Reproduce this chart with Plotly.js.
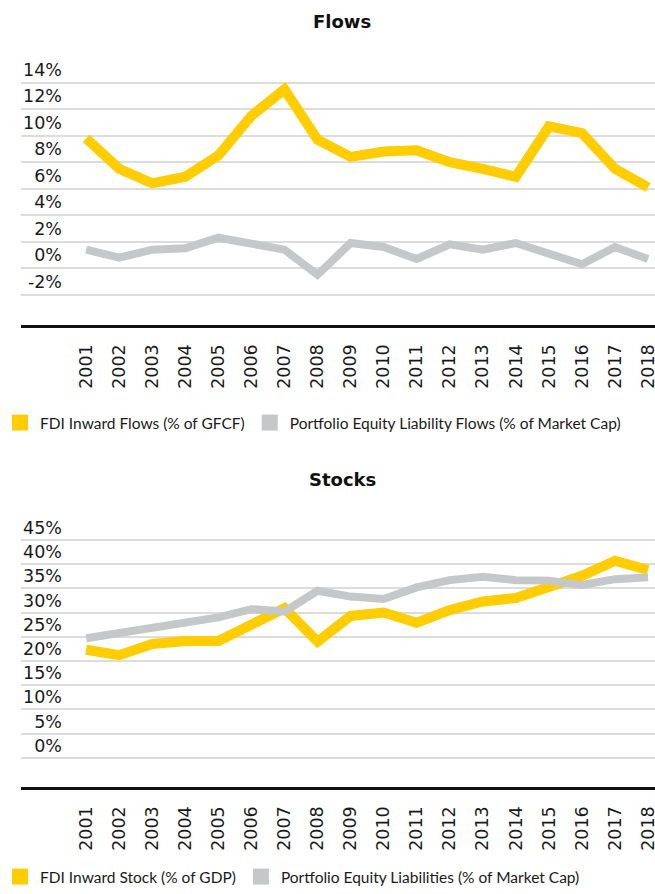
<!DOCTYPE html>
<html>
<head>
<meta charset="utf-8">
<script src="https://cdn.plot.ly/plotly-3.0.1.min.js"></script>
<style>
  body { margin: 0; padding: 0; background: #fff; }
  #chart { width: 655px; height: 894px; }
</style>
</head>
<body>
<div id="chart"></div>
<script>
var years = [2001, 2002, 2003, 2004, 2005, 2006, 2007, 2008, 2009,
             2010, 2011, 2012, 2013, 2014, 2015, 2016, 2017, 2018];

// flows, % values
var fdiFlows = [9.8, 7.5, 6.4, 6.9, 8.5, 11.5, 13.5, 9.7, 8.4,
                8.8, 8.9, 8.0, 7.5, 6.9, 10.7, 10.2, 7.5, 6.1];
var equityFlows = [1.4, 0.8, 1.4, 1.5, 2.3, 1.9, 1.4, -0.5, 1.9,
                   1.6, 0.7, 1.8, 1.4, 1.9, 1.1, 0.3, 1.6, 0.7];

// stocks, % values
var fdiStock = [22.3, 21.2, 23.5, 24.1, 24.1, 27.6, 30.9, 24.0, 29.3,
                30.0, 27.9, 30.5, 32.3, 33.0, 35.5, 37.6, 40.7, 38.8];
var equityStock = [24.7, 25.7, 27.1, 28.0, 29.0, 30.7, 30.2, 34.5, 33.3,
                   32.8, 35.2, 36.7, 37.4, 36.7, 36.6, 35.7, 36.9, 37.3];

var flowTicks = [-2, 0, 2, 4, 6, 8, 10, 12, 14];
var flowLabels = ["-2%", "0%", "2%", "4%", "6%", "8%", "10%", "12%", "14%"];
var stockTicks = [0, 5, 10, 15, 20, 25, 30, 35, 40, 45];
var stockLabels = ["0%", "5%", "10%", "15%", "20%", "25%", "30%", "35%", "40%", "45%"];

var yellow = "#ffcd00";
var grey = "#c5c7c8";
var tickFont = {family: "DejaVu Sans", size: 17.5, color: "#1a1a1a"};
var legendFont = {family: "Lato", size: 15.5, color: "#1a1a1a"};

function line(y, color, width, xa, ya){
    return {x: years, y: y, type: "scatter", mode: "lines",
            line: {color: color, width: width},
            xaxis: xa, yaxis: ya, showlegend: false, hoverinfo: "skip"};
}

function key(name, color, leg){
    return {x: [null], y: [null], type: "scatter", mode: "markers", name: name,
            marker: {symbol: "square", size: 16, color: color},
            legend: leg, xaxis: "x", yaxis: "y"};
}

var traces = [
    line(fdiFlows, yellow, 10, "x", "y"),
    line(equityFlows, grey, 8, "x", "y"),
    line(fdiStock, yellow, 10, "x2", "y2"),
    line(equityStock, grey, 8, "x2", "y2"),
    key("FDI Inward Flows (% of GFCF)", yellow, "legend"),
    key("Portfolio Equity Liability Flows (% of Market Cap)", grey, "legend"),
    key("FDI Inward Stock (% of GDP)", yellow, "legend2"),
    key("Portfolio Equity Liabilities (% of Market Cap)", grey, "legend2")
];

function xaxis(anchor){
    return {anchor: anchor, domain: [21 / 655, 1], range: [1999.03, 2018.21],
            tickvals: years, ticktext: years.map(String), tickangle: -90,
            tickfont: tickFont, showgrid: false, zeroline: false, showline: true,
            linecolor: "#111", linewidth: 3, ticks: "", ticklabelstandoff: 9,
            automargin: false, ticklabeloverflow: "allow", fixedrange: true};
}

// gridlines sit on the values, the labels sit half a step above them
function yaxis(domain, range, ticks, labels, step){
    return {domain: domain, range: range,
            tickvals: ticks.map(function(v){ return v + step / 2; }),
            ticktext: labels, tickfont: tickFont, showgrid: false,
            minor: {tickvals: ticks, showgrid: true, gridcolor: "#dcdcdc",
                    gridwidth: 2, ticks: ""},
            zeroline: false, showline: false, ticks: "",
            ticklabelstandoff: -42, automargin: false,
            ticklabeloverflow: "allow", fixedrange: true};
}

var layout = {
    width: 655, height: 894,
    margin: {l: 0, r: 0, t: 0, b: 0},
    paper_bgcolor: "#fff", plot_bgcolor: "#fff",
    xaxis: xaxis("y"),
    yaxis: yaxis([0.6361, 0.9329], [-4.31, 15.71], flowTicks, flowLabels, 2),
    xaxis2: xaxis("y2"),
    yaxis2: yaxis([0.11935, 0.41834], [-6.12, 49.13], stockTicks, stockLabels, 5),
    legend: {orientation: "h", x: 0, y: 1 - 423 / 894, xanchor: "left", yanchor: "middle",
             font: legendFont, bgcolor: "rgba(0,0,0,0)", itemclick: false},
    legend2: {orientation: "h", x: 0, y: 0, xanchor: "left", yanchor: "bottom",
              font: legendFont, bgcolor: "rgba(0,0,0,0)", itemclick: false},
    annotations: [
        {text: "Flows", x: 342 / 655, y: 0.9754, xref: "paper", yref: "paper",
         showarrow: false, yanchor: "middle",
         font: {family: "DejaVu Sans", size: 18, weight: "bold", color: "#111"}},
        {text: "Stocks", x: 342 / 655, y: 0.4642, xref: "paper", yref: "paper",
         showarrow: false, yanchor: "middle",
         font: {family: "DejaVu Sans", size: 18, weight: "bold", color: "#111"}}
    ]
};

Plotly.newPlot("chart", traces, layout, {displayModeBar: false, staticPlot: true});
</script>
</body>
</html>
